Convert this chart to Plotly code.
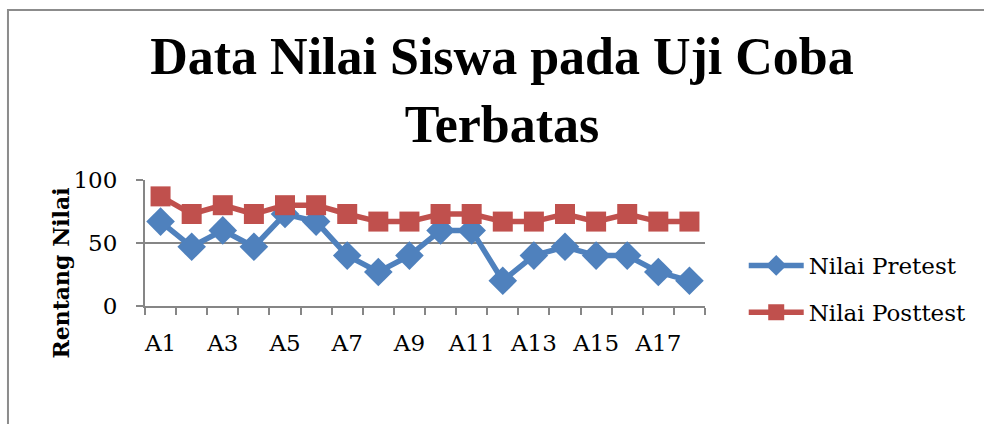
import plotly.graph_objects as go

categories = [f"A{i}" for i in range(1, 19)]
pretest = [67, 47, 60, 47, 73, 67, 40, 27, 40, 60, 60, 20, 40, 47, 40, 40, 27, 20]
posttest = [87, 73, 80, 73, 80, 80, 73, 67, 67, 73, 73, 67, 67, 73, 67, 73, 67, 67]
tick_labels = [c if i % 2 == 0 else "" for i, c in enumerate(categories)]

TFONT = "Liberation Serif"
FONT = "DejaVu Serif"
BLUE = "#4F81BD"
RED = "#C0504D"
GRID = "#868686"

fig = go.Figure()
fig.add_trace(go.Scatter(
    x=categories, y=pretest, name="Nilai Pretest", mode="lines+markers",
    line=dict(color=BLUE, width=5.5),
    marker=dict(symbol="diamond", size=22, color=BLUE),
    legendgroup="a",
))
fig.add_trace(go.Scatter(
    x=categories, y=posttest, name="Nilai Posttest", mode="lines+markers",
    line=dict(color=RED, width=5.5),
    marker=dict(symbol="square", size=20, color=RED),
    legendgroup="b",
))

L, R, T, B = 145, 275, 180, 118
W, H = 984, 424
pw, ph = W - L - R, H - T - B

def px(x):
    return (x - L) / pw

def py(y):
    return (H - B - y) / ph

fig.update_layout(
    width=W, height=H,
    margin=dict(l=L, r=R, t=T, b=B),
    paper_bgcolor="white", plot_bgcolor="white",
    font=dict(family=FONT, color="black", size=23),
    title=dict(
        text="<b>Data Nilai Siswa pada Uji Coba<br>Terbatas</b>",
        x=502 / W, xanchor="center", xref="container",
        y=1 - 74 / H, yanchor="middle", yref="container",
        font=dict(family=TFONT, size=52, color="black"),
    ),
    xaxis=dict(
        type="category", tickvals=categories, ticktext=tick_labels,
        range=[-0.5, len(categories) - 0.5], autorange=False,
        tickson="boundaries", ticks="outside", ticklen=7, tickcolor=GRID, tickwidth=2,
        showline=True, linecolor=GRID, linewidth=2, showgrid=False,
        ticklabelstandoff=15, tickangle=0, tickfont=dict(size=23),
    ),
    yaxis=dict(
        range=[0, 100], tickvals=[0, 50, 100], ticks="outside", ticklen=7,
        tickcolor=GRID, tickwidth=2, showline=True, linecolor=GRID, linewidth=2,
        showgrid=True, gridcolor=GRID, gridwidth=2, zeroline=False,
        ticklabelstandoff=14, tickfont=dict(size=23),
    ),
    legend=dict(
        x=px(748), xanchor="left", y=py(244), yanchor="top",
        font=dict(size=23), tracegroupgap=14, itemwidth=55,
        bgcolor="rgba(0,0,0,0)",
    ),
    showlegend=True,
    annotations=[dict(
        text="<b>Rentang Nilai</b>", textangle=-90, xref="paper", yref="paper",
        x=px(60), y=py(273), showarrow=False, font=dict(size=22),
        xanchor="center", yanchor="middle",
    )],
    shapes=[dict(
        type="rect", xref="paper", yref="paper",
        x0=px(7), x1=px(1000), y0=py(440), y1=py(10),
        line=dict(color="#8C8C8C", width=2), layer="below",
    )],
)

fig.write_html("out.html", config={"displayModeBar": False},
               post_script="document.body.style.margin='0';")
